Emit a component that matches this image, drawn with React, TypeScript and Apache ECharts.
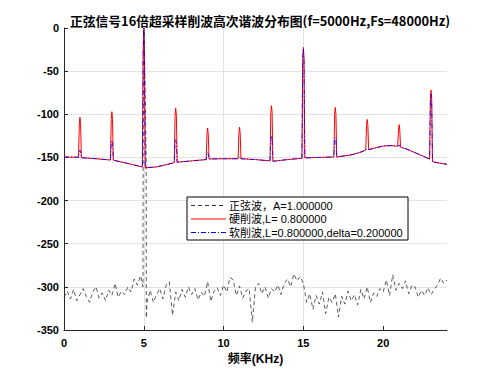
import React, { useEffect, useRef } from "react";
import * as echarts from "echarts";

const titleText = "正弦信号16倍超采样削波高次谐波分布图(f=5000Hz,Fs=48000Hz)";
const xName = "频率(KHz)";
const legendNames = [
  "正弦波，A=1.000000",
  "硬削波,L= 0.800000",
  "软削波,L=0.800000,delta=0.200000",
];

// noise floor of the pure sine, sampled every 0.2 kHz from 0 to 24 (null = replaced by peak)
const noiseStep = 0.2;
const sineNoiseDb = [
  -312, -305, -314, -303, -316, -309, -302, -311, -318, -306,
  -300, -313, -307, -316, -304, -310, -296, -312, -305, -309,
  -300, -306, -291, -298, -287, null, -318, -304, -318, -309,
  -302, -314, -298, -294, -333, -306, -316, -303, -312, -300,
  -309, -302, -315, -306, -311, -294, -317, -305, -301, -310,
  -298, -306, -289, -292, -310, -299, -313, -305, -302, -341,
  -300, -296, -308, -300, -313, -302, -306, -298, -309, -296,
  -291, -300, -285, -293, -288, -296, -318, -308, -326, -310,
  -320, -306, -331, -312, -318, -308, -335, -311, -320, -305,
  -316, -309, -321, -303, -314, -300, -318, -307, -311, -302,
  -306, -292, -310, -286, -304, -296, -302, -293, -308, -298,
  -300, -312, -304, -310, -301, -309, -303, -298, -290, -296,
  -292,
];
const sinePeakFreq = [4.95, 4.96, 5.02, 5.15, 5.16];
const sinePeakDb = [-300, -150, 0, -150, -336];

const hardFreq = [
  0, 0.5, 0.91, 0.96, 1.0, 1.04, 1.09, 2.0, 2.91, 2.96, 3.0, 3.04, 3.09, 4.0,
  4.91, 4.96, 5.0, 5.04, 5.09, 5.8, 6.5, 6.91, 6.96, 7.0, 7.04, 7.09, 8.0,
  8.91, 8.96, 9.0, 9.04, 9.09, 10.0, 10.91, 10.96, 11.0, 11.04, 11.09, 12.0,
  12.91, 12.96, 13.0, 13.04, 13.09, 14.0, 14.91, 14.96, 15.0, 15.04, 15.09,
  16.0, 16.91, 16.96, 17.0, 17.04, 17.09, 18.0, 18.5, 18.91, 18.96, 19.0,
  19.04, 19.09, 19.5, 20.0, 20.5, 20.91, 20.96, 21.0, 21.04, 21.09, 21.5,
  22.0, 22.5, 22.91, 22.96, 23.0, 23.04, 23.09, 23.5, 24.0,
];
const hardDb = [
  -149.5, -149.7, -149.8, -111, -103.5, -111, -150.3, -151.5, -153, -106, -97,
  -106, -153.2, -157, -161, -30, 0, -30, -162, -161, -158, -156, -101, -93,
  -101, -155.5, -154, -152.5, -123, -116, -123, -151.8, -151.5, -151.5, -122,
  -115, -122, -151.5, -152.5, -154, -98, -90, -98, -154.5, -152.5, -151, -35,
  -22.5, -35, -150.5, -150, -149.5, -100, -92, -100, -149.5, -147, -144.5,
  -141.5, -113, -106, -113, -141, -139, -136.8, -136.3, -137, -118, -112,
  -118, -138, -140.5, -144.5, -148.5, -152, -81, -72, -81, -155, -156.5, -158,
];

const softFreq = [
  0, 0.5, 0.91, 0.96, 1.0, 1.04, 1.09, 2.0, 2.91, 2.96, 3.0, 3.04, 3.09, 4.0,
  4.91, 4.96, 5.0, 5.04, 5.09, 5.8, 6.5, 6.91, 6.96, 7.0, 7.04, 7.09, 8.0,
  8.91, 8.96, 9.0, 9.04, 9.09, 10.0, 10.91, 11.0, 11.09, 12.0, 12.91, 12.96,
  13.0, 13.04, 13.09, 14.0, 14.91, 14.96, 15.0, 15.04, 15.09, 16.0, 16.91,
  16.96, 17.0, 17.04, 17.09, 18.0, 18.5, 18.91, 19.0, 19.09, 19.5, 20.0, 20.5,
  20.91, 21.0, 21.09, 21.5, 22.0, 22.5, 22.91, 22.96, 23.0, 23.04, 23.09,
  23.5, 24.0,
];
const softDb = [
  -149.5, -149.7, -149.8, -143.5, -141.5, -143.5, -150.3, -151.5, -153, -134.5,
  -130, -134.5, -153.2, -157, -161, -30, 0, -30, -162, -161, -158, -156, -134,
  -129, -134, -155.5, -154, -152.5, -145.5, -144, -145.5, -151.8, -151.5,
  -151.5, -149, -151.5, -152.5, -154, -131, -125, -131, -154.5, -152.5, -151,
  -37, -24, -37, -150.5, -150, -149.5, -131, -127, -131, -149.5, -147, -144.5,
  -141.5, -139.5, -141, -139, -136.8, -136.3, -137, -135.5, -138, -140.5,
  -144.5, -148.5, -152, -86, -77, -86, -155, -156.5, -158,
];

const xTicks = [0, 5, 10, 15, 20];

const FONT = '"Liberation Sans", Arial, "Noto Sans CJK SC", sans-serif';

const sineLine = { color: "#333333", width: 0.8, type: [4, 3] };
const hardLine = { color: "#ff0000", width: 1, type: "solid" };
const softLine = { color: "#0000ff", width: 0.8, type: [5, 2, 1, 2] };

export default function App() {
  const ref = useRef<HTMLDivElement>(null);
  useEffect(() => {
    if (!ref.current) return;
    const chart = echarts.init(ref.current, undefined, { renderer: "svg" });

    const sinePts: [number, number][] = [];
    sineNoiseDb.forEach((v, i) => {
      if (v !== null) sinePts.push([i * noiseStep, v as number]);
    });
    sinePeakFreq.forEach((f, i) => sinePts.push([f, sinePeakDb[i]]));
    sinePts.sort((a, b) => a[0] - b[0]);

    const hardPts = hardFreq.map((f, i) => [f, hardDb[i]]);
    const softPts = softFreq.map((f, i) => [f, softDb[i]]);
    const lines = [sineLine, hardLine, softLine];

    // legend box drawn with graphic elements
    const lgLeft = 187;
    const lgTop = 197;
    const rowY = [205.5, 219, 232.5];
    const legendGraphics: any[] = [
      {
        type: "rect",
        shape: { x: lgLeft, y: lgTop, width: 221, height: 43 },
        style: { fill: "#fff", stroke: "#000", lineWidth: 1 },
        z: 10,
      },
    ];
    legendNames.forEach((n, i) => {
      const l = lines[i];
      legendGraphics.push({
        type: "line",
        shape: { x1: lgLeft + 4, y1: rowY[i], x2: lgLeft + 39, y2: rowY[i] },
        style: {
          stroke: l.color,
          lineWidth: 1,
          lineDash: Array.isArray(l.type) ? l.type : null,
        },
        z: 11,
      });
      legendGraphics.push({
        type: "text",
        x: lgLeft + 42,
        y: rowY[i],
        style: {
          text: n,
          fontFamily: FONT,
          fontSize: 11,
          fill: "#000",
          verticalAlign: "middle",
          align: "left",
        },
        z: 11,
      });
    });

    chart.setOption({
      animation: false,
      backgroundColor: "#ffffff",
      title: {
        text: titleText,
        left: 255,
        textAlign: "center",
        top: 9,
        textStyle: {
          fontFamily: '"Noto Sans CJK SC", sans-serif',
          fontWeight: "bold",
          fontSize: 12.8,
          color: "#000",
        },
      },
      graphic: legendGraphics,
      grid: { left: 64, right: 47, top: 28, bottom: 41 },
      xAxis: {
        type: "value",
        min: 0,
        max: 24,
        interval: 5,
        name: xName,
        nameLocation: "middle",
        nameGap: 23,
        nameTextStyle: { fontFamily: FONT, fontWeight: "bold", fontSize: 12, color: "#000" },
        axisLine: { show: true, onZero: false, lineStyle: { color: "#262626", width: 1 } },
        axisTick: { show: true, inside: true, length: 4, lineStyle: { color: "#262626" }, customValues: xTicks },
        axisLabel: {
          fontFamily: FONT,
          fontWeight: "bold",
          fontSize: 11,
          color: "#000",
          margin: 7,
          customValues: xTicks,
        },
        splitLine: { show: true, showMinLine: false, showMaxLine: false, lineStyle: { color: "#e3e3e3", width: 1 } },
      },
      yAxis: {
        type: "value",
        min: -350,
        max: 0,
        interval: 50,
        axisLine: { show: true, onZero: false, lineStyle: { color: "#262626", width: 1 } },
        axisTick: { show: true, inside: true, length: 4, lineStyle: { color: "#262626" } },
        axisLabel: { fontFamily: FONT, fontWeight: "bold", fontSize: 11, color: "#000", margin: 5 },
        splitLine: { show: true, showMinLine: false, showMaxLine: false, lineStyle: { color: "#e3e3e3", width: 1 } },
      },
      series: [
        {
          name: legendNames[0],
          type: "line",
          data: sinePts,
          symbol: "none",
          lineStyle: sineLine,
          itemStyle: { color: sineLine.color },
        },
        {
          name: legendNames[1],
          type: "line",
          data: hardPts,
          symbol: "none",
          lineStyle: hardLine,
          itemStyle: { color: hardLine.color },
        },
        {
          name: legendNames[2],
          type: "line",
          data: softPts,
          symbol: "none",
          lineStyle: softLine,
          itemStyle: { color: softLine.color },
        },
      ],
    });
    return () => chart.dispose();
  }, []);
  return (
    <div
      ref={ref}
      style={{ position: "fixed", left: 0, top: 0, width: 494, height: 371, background: "#fff" }}
    />
  );
}
